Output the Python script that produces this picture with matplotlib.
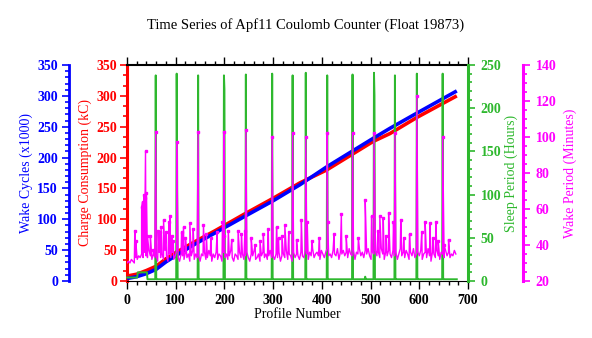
import matplotlib
matplotlib.use('Agg')
import matplotlib.pyplot as plt
from matplotlib.ticker import MultipleLocator

plt.rcParams['font.family'] = ['Liberation Serif', 'DejaVu Serif']
plt.rcParams['font.size'] = 10

BLUE = '#0000ff'
RED = '#ff0000'
GREEN = '#2eb82e'
MAGENTA = '#ff00ff'
PX = 72 / 100  # points per pixel at dpi 100

# cumulative counters
cum_profiles = [0, 20, 40, 60, 80, 100, 140, 181, 240, 300, 355, 410, 505, 540, 595, 677]
wake_cycles = [4, 7, 12, 19, 31, 41, 60, 78, 104, 130, 156, 185, 231, 247.5, 272, 308]
charge_kc = [8, 11, 17, 24, 36, 46, 64, 81.5, 108, 134, 159, 180, 226, 239, 265, 300]

# sleep period: low baseline with the long park spikes
sleep_early_profiles = [0, 21, 22, 41, 42]
sleep_early_hours = [4, 4, 10, 10, 2]
sleep_spike_profiles = [59, 102, 146, 199, 244, 298, 340, 367, 411, 463, 489, 507, 550, 595, 648]
sleep_spike_hours = [238, 240, 238, 238, 239, 240, 238, 241, 238, 239, 5, 241, 238, 240, 240]
sleep_next_hours = [2, 120, 2, 222, 2, 2, 2, 2, 2, 2, 2, 215, 2, 2, 2]
sleep_base = 2
last_profile = 677

# wake period, sampled every third profile
wake_base = [
    30, 31, 30, 32, 31, 30, 33, 32, 34, 33,
    35, 33, 36, 34, 33, 37, 34, 32, 35, 33,
    34, 31, 36, 33, 35, 32, 37, 34, 31, 35,
    33, 36, 32, 34, 37, 33, 31, 35, 34, 32,
    36, 33, 35, 31, 34, 37, 32, 35, 33, 34,
    31, 35, 34, 36, 32, 33, 37, 34, 31, 35,
    33, 36, 32, 35, 34, 31, 36, 33, 35, 32,
    34, 37, 33, 31, 35, 34, 32, 36, 33, 35,
    32, 34, 36, 33, 31, 35, 34, 37, 32, 33,
    35, 31, 34, 36, 33, 35, 32, 34, 37, 33,
    34, 32, 35, 33, 36, 31, 34, 35, 33, 37,
    32, 35, 34, 31, 36, 33, 35, 34, 32, 36,
    34, 33, 37, 35, 32, 36, 34, 38, 33, 35,
    36, 34, 32, 37, 35, 33, 36, 38, 34, 35,
    33, 37, 35, 34, 38, 32, 36, 35, 37, 34,
    36, 33, 38, 35, 34, 37, 32, 36, 35, 38,
    34, 36, 33, 37, 35, 38, 34, 32, 36, 35,
    37, 34, 36, 33, 38, 35, 32, 36, 34, 37,
    35, 33, 37, 34, 36, 32, 35, 38, 34, 36,
    33, 37, 35, 32, 36, 34, 38, 33, 35, 36,
    34, 37, 32, 35, 36, 33, 38, 34, 31, 36,
    35, 33, 37, 34, 32, 36, 35, 33, 37, 34,
    36, 33, 35, 34, 37, 35,
]
wake_base_step = 3
wake_spike_profiles = [16, 18, 30, 32, 35, 37, 38, 40, 42, 48, 54, 59, 64, 67, 70, 75, 80,
                       86, 88, 92, 95, 102, 112, 116, 120, 129, 136, 146, 157, 163, 172,
                       185, 196, 199, 200, 208, 215, 228, 235, 242, 244, 255, 263, 273,
                       280, 290, 298, 307, 311, 318, 324, 332, 340, 348, 358, 367, 370,
                       380, 395, 411, 412, 425, 440, 450, 463, 475, 489, 502, 507, 515,
                       519, 526, 532, 537, 547, 550, 562, 568, 580, 595, 605, 612, 622,
                       628, 634, 639, 648, 651, 660]
wake_spike_minutes = [48, 42, 61, 64, 68, 66, 92, 69, 45, 45, 37, 103, 48, 47, 50, 54, 47,
                      53, 56, 45, 42, 97, 47, 50, 44, 52, 49, 103, 51, 46, 44,
                      47, 53, 103, 45, 48, 43, 48, 46, 48, 104, 44, 40, 42,
                      46, 49, 100, 50, 44, 45, 51, 47, 102, 43, 54, 100, 53,
                      42, 44, 102, 53, 46, 57, 45, 102, 44, 65, 56, 102, 48,
                      56, 55, 45, 58, 53, 102, 54, 44, 46, 123, 47, 53, 52,
                      44, 53, 42, 100, 40, 43]

# build the sleep polyline
sleep_x = list(sleep_early_profiles)
sleep_y = list(sleep_early_hours)
for p, h, h2 in zip(sleep_spike_profiles, sleep_spike_hours, sleep_next_hours):
    sleep_x += [p - 1, p, p + 1, p + 2]
    sleep_y += [sleep_base, h, h2, sleep_base]
sleep_x.append(last_profile)
sleep_y.append(sleep_base)

# merge the wake samples with the spikes
wake_pts = [(i * wake_base_step, v) for i, v in enumerate(wake_base)]
wake_pts += list(zip(wake_spike_profiles, wake_spike_minutes))
wake_pts.sort(key=lambda t: t[0])
wake_x = [p for p, _ in wake_pts]
wake_y = [v for _, v in wake_pts]

fig = plt.figure(figsize=(5.92, 3.38), dpi=100)
ax = fig.add_axes([127 / 592, 1 - 281 / 338, 341 / 592, 216 / 338])
ax_blue = ax.twinx()
ax_green = ax.twinx()
ax_mag = ax.twinx()

# red (charge) on the main axes, left spine
ax.plot(cum_profiles, charge_kc, color=RED, lw=2.6, solid_capstyle='butt')
ax.set_xlim(0, 700)
ax.set_ylim(0, 350)
ax.yaxis.set_major_locator(MultipleLocator(50))
ax.yaxis.set_minor_locator(MultipleLocator(50 / 3))
ax.xaxis.set_major_locator(MultipleLocator(100))
ax.xaxis.set_minor_locator(MultipleLocator(20))
ax.tick_params(axis='x', which='both', direction='out', top=True, bottom=True,
               colors='black', pad=3)
ax.tick_params(axis='x', which='major', length=6, width=1)
ax.tick_params(axis='x', which='minor', length=3, width=1)
ax.tick_params(axis='y', which='both', direction='out', colors=RED, pad=2)
ax.tick_params(axis='y', which='major', length=5, width=1.2)
ax.tick_params(axis='y', which='minor', length=3, width=1.2)
ax.spines['left'].set_color(RED)
ax.spines['left'].set_linewidth(2.2)
ax.spines['top'].set_linewidth(1.5)
ax.spines['right'].set_visible(False)
ax.set_ylabel('Charge Consumption (kC)', color=RED, labelpad=3)
ax.set_xlabel('Profile Number', labelpad=1)

# blue (wake cycles) on an offset left spine
ax_blue.plot(cum_profiles, wake_cycles, color=BLUE, lw=2.6, solid_capstyle='butt')
ax_blue.set_ylim(0, 350)
ax_blue.yaxis.set_label_position('left')
ax_blue.yaxis.tick_left()
ax_blue.spines['left'].set_position(('outward', 58 * PX))
ax_blue.spines['left'].set_color(BLUE)
ax_blue.spines['left'].set_linewidth(2)
for s in ['right', 'top', 'bottom']:
    ax_blue.spines[s].set_visible(False)
ax_blue.yaxis.set_major_locator(MultipleLocator(50))
ax_blue.yaxis.set_minor_locator(MultipleLocator(10))
ax_blue.tick_params(axis='y', which='both', direction='out', colors=BLUE, pad=3)
ax_blue.tick_params(axis='y', which='major', length=5, width=1.2)
ax_blue.tick_params(axis='y', which='minor', length=3, width=1.2)
ax_blue.set_ylabel('Wake Cycles (x1000)', color=BLUE, labelpad=3)

# green (sleep period) on the right spine
ax_green.plot(sleep_x, sleep_y, color=GREEN, lw=1.4, clip_on=False)
ax_green.set_ylim(0, 250)
ax_green.spines['right'].set_color(GREEN)
ax_green.spines['right'].set_linewidth(2.2)
for s in ['left', 'top', 'bottom']:
    ax_green.spines[s].set_visible(False)
ax_green.yaxis.set_major_locator(MultipleLocator(50))
ax_green.yaxis.set_minor_locator(MultipleLocator(10))
ax_green.tick_params(axis='y', which='both', direction='out', colors=GREEN, pad=4)
ax_green.tick_params(axis='y', which='major', length=5, width=1.2)
ax_green.tick_params(axis='y', which='minor', length=3, width=1.2)
ax_green.set_ylabel('Sleep Period (Hours)', color=GREEN, labelpad=2)

# magenta (wake period) on an offset right spine
ax_mag.plot(wake_x, wake_y, color=MAGENTA, lw=1.0)
ax_mag.plot(wake_spike_profiles, wake_spike_minutes, ls='none', marker='s',
            ms=2, color=MAGENTA)
ax_mag.set_ylim(20, 140)
ax_mag.spines['right'].set_position(('outward', 55 * PX))
ax_mag.spines['right'].set_color(MAGENTA)
ax_mag.spines['right'].set_linewidth(2.2)
for s in ['left', 'top', 'bottom']:
    ax_mag.spines[s].set_visible(False)
ax_mag.yaxis.set_major_locator(MultipleLocator(20))
ax_mag.yaxis.set_minor_locator(MultipleLocator(5))
ax_mag.tick_params(axis='y', which='both', direction='out', colors=MAGENTA, pad=4)
ax_mag.tick_params(axis='y', which='major', length=5, width=1.2)
ax_mag.tick_params(axis='y', which='minor', length=3, width=1.2)
ax_mag.set_ylabel('Wake Period (Minutes)', color=MAGENTA, labelpad=5)

# heavy tick numerals
for a in (ax, ax_blue, ax_green, ax_mag):
    for lab in a.get_xticklabels() + a.get_yticklabels():
        lab.set_fontweight('bold')

fig.text(306 / 592, 1 - 25 / 338, 'Time Series of Apf11 Coulomb Counter (Float 19873)',
         ha='center', va='center', fontsize=10.5)

fig.savefig('out.png', dpi=100)
